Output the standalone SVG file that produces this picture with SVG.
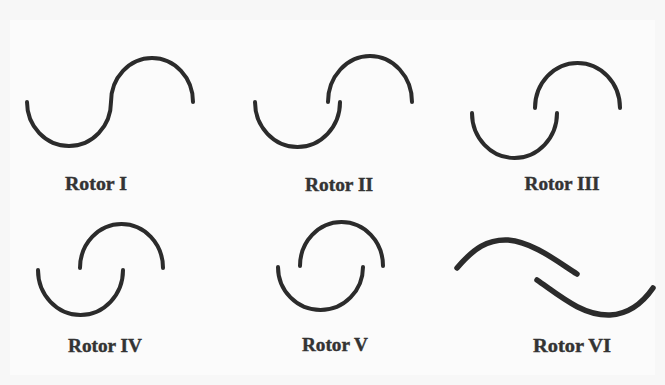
<svg xmlns="http://www.w3.org/2000/svg" width="665" height="385" viewBox="0 0 665 385">
<style>
.rotor{fill:none;stroke:#2b2b2b;stroke-width:4;stroke-linecap:round}
.thick{stroke-width:5.5}
.lbl{font-family:"Liberation Serif","Times New Roman",serif;font-weight:bold;font-size:18px;fill:#333;stroke:#333;stroke-width:0.4;text-anchor:middle}
</style>
<rect x="0" y="0" width="665" height="385" fill="#f7f7f7"/>
<rect x="10" y="20" width="645" height="355" fill="#fbfbfb"/>
<g id="rotor1">
<path class="rotor" d="M27,102 A42,44 0 0 0 111,102 A41,44 0 0 1 193,102"/>
<text class="lbl" x="96" y="190" textLength="62" lengthAdjust="spacingAndGlyphs">Rotor I</text>
</g>
<g id="rotor2">
<path class="rotor" d="M255,102 A42.5,45 0 0 0 340,102"/>
<path class="rotor" d="M328,102 A42,46 0 0 1 412,102"/>
<text class="lbl" x="339" y="191" textLength="68" lengthAdjust="spacingAndGlyphs">Rotor II</text>
</g>
<g id="rotor3">
<path class="rotor" d="M472,113 A42.5,45 0 0 0 557,113"/>
<path class="rotor" d="M535,108 A42.5,45 0 0 1 620,108"/>
<text class="lbl" x="562" y="190" textLength="75" lengthAdjust="spacingAndGlyphs">Rotor III</text>
</g>
<g id="rotor4">
<path class="rotor" d="M38,270 A42.5,45 0 0 0 123,270"/>
<path class="rotor" d="M80,268 A41.5,44 0 0 1 163,268"/>
<text class="lbl" x="105" y="352" textLength="74" lengthAdjust="spacingAndGlyphs">Rotor IV</text>
</g>
<g id="rotor5">
<path class="rotor" d="M278,267 A42.5,43 0 0 0 363,267"/>
<path class="rotor" d="M300,266 A41.5,44 0 0 1 383,266"/>
<text class="lbl" x="335" y="351" textLength="66" lengthAdjust="spacingAndGlyphs">Rotor V</text>
</g>
<g id="rotor6">
<path class="rotor thick" d="M457,268 C474,248 488,239 508,240 C533,242 558,262 577,274"/>
<path class="rotor thick" d="M537,280 C560,296 583,316 610,315 C630,314 644,301 653,288"/>
<text class="lbl" x="572" y="352" textLength="78" lengthAdjust="spacingAndGlyphs">Rotor VI</text>
</g>
</svg>
